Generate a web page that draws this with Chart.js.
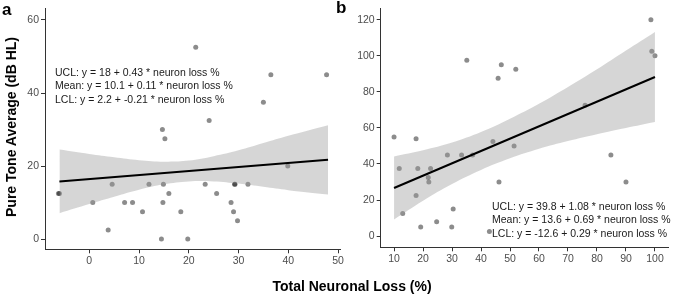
<!DOCTYPE html>
<html>
<head>
<meta charset="utf-8">
<script src="https://cdn.jsdelivr.net/npm/chart.js@4"></script>
<style>
  body { margin: 0; background: #fff; width: 675px; height: 296px; overflow: hidden; position: relative; font-family: "Liberation Sans", Arial, sans-serif; }
  canvas { position: absolute; top: 0; }
  .lbl { position: absolute; font-weight: bold; color: #000; }
  .eq { position: absolute; font-size: 10.5px; line-height: 13.3px; color: #1a1a1a; white-space: nowrap; }
</style>
</head>
<body>
<canvas id="chartA" style="left:0px"></canvas>
<canvas id="chartB" style="left:330px"></canvas>

<div class="lbl" style="left:2px;top:0px;font-size:17px;">a</div>
<div class="lbl" style="left:336px;top:-2px;font-size:17px;">b</div>
<div class="lbl" style="left:11px;top:127px;font-size:14px;transform:translate(-50%,-50%) rotate(-90deg);white-space:nowrap;">Pure Tone Average (dB HL)</div>
<div class="lbl" style="left:352px;top:286px;font-size:14px;transform:translate(-50%,-50%);white-space:nowrap;">Total Neuronal Loss (%)</div>

<div class="eq" style="left:55px;top:66px;">UCL: y = 18 + 0.43 * neuron loss %<br>Mean: y = 10.1 + 0.11 * neuron loss %<br>LCL: y = 2.2 + -0.21 * neuron loss %</div>
<div class="eq" style="left:492px;top:200px;">UCL: y = 39.8 + 1.08 * neuron loss %<br>Mean: y = 13.6 + 0.69 * neuron loss %<br>LCL: y = -12.6 + 0.29 * neuron loss %</div>

<script>
// panel a: neuron loss vs PTA
const aLoss = [21.4, 36.5, 47.7, 35, 24.1, 14.7, 15.2, 39.9, -6, -6.2, 4.6, 12, 14.9, 23.3, 29.2, 29.3, 31.9, 16, 25.6, 0.7, 7.1, 8.7, 14.8, 28.5, 10.7, 18.4, 29, 29.8, 3.8, 14.5, 19.8];
const aPta  = [52.5, 45, 45, 37.5, 32.5, 30, 27.5, 20, 12.5, 12.5, 15, 15, 15, 15, 15, 15, 15, 12.5, 12.5, 10, 10, 10, 10, 10, 7.5, 7.5, 7.5, 5, 2.5, 0, 0];
const aFitX = [-6, 48];
const aFitY = [15.8, 21.7];
const aBandX  = [-6, 0, 5, 10, 15, 20, 25, 30, 35, 40, 48];
const aBandLo = [7.1, 9.6, 11.6, 13.5, 15.0, 15.8, 15.8, 15.2, 14.3, 13.4, 12.2];
const aBandHi = [24.5, 23.3, 22.4, 21.6, 21.2, 21.5, 22.7, 24.3, 26.3, 28.3, 31.2];
const aXTicks = [0, 10, 20, 30, 40, 50];
const aYTicks = [0, 20, 40, 60];

// panel b
const bLoss = [10, 17.6, 11.8, 18.2, 22.6, 21.8, 22, 17.6, 13, 19.2, 24.7, 29.9, 30.4, 28.4, 33.3, 37.1, 44.1, 51.4, 46.2, 42.9, 75.9, 84.8, 90, 35.1, 47, 45.9, 52, 98.6, 98.9, 100];
const bPta  = [55, 54, 37.5, 37.5, 37.5, 32.5, 30, 22.5, 12.5, 5, 8, 5, 15, 45, 45, 45, 52.5, 50, 30, 2.5, 72.5, 45, 30, 97.5, 95, 87.5, 92.5, 120, 102.5, 100];
const bFitX = [10, 100];
const bFitY = [26.7, 88.2];
const bBandX  = [10, 20, 30, 40, 50, 60, 70, 80, 90, 100];
const bBandLo = [9.2, 19.6, 28.9, 36.7, 43.1, 48.4, 52.7, 56.5, 59.9, 63.2];
const bBandHi = [44.2, 47.6, 51.9, 57.7, 65.1, 73.4, 82.7, 92.5, 102.9, 113.2];
const bXTicks = [10, 20, 30, 40, 50, 60, 70, 80, 90, 100];
const bYTicks = [0, 20, 40, 60, 80, 100, 120];

function pts(xs, ys) {
  return xs.map((x, i) => ({ x: x, y: ys[i] }));
}

function makePanel(id, w, cfg) {
  const cv = document.getElementById(id);
  cv.width = w;
  cv.height = 296;
  cv.style.width = w + 'px';
  cv.style.height = '296px';

  const axisStyle = {
    border: { display: true, color: '#333', width: 1 },
    grid: { drawOnChartArea: false, drawTicks: true, tickLength: 4, tickColor: '#333' },
  };

  return new Chart(cv, {
    type: 'line',
    data: {
      datasets: [
        { data: pts(cfg.fitX, cfg.fitY), borderColor: '#000', borderWidth: 2, pointRadius: 0, fill: false },
        { data: pts(cfg.bandX, cfg.bandHi), borderWidth: 0, borderColor: 'rgba(0,0,0,0)', pointRadius: 0, tension: 0.4,
          fill: '+1', backgroundColor: 'rgba(153,153,153,0.4)' },
        { data: pts(cfg.bandX, cfg.bandLo), borderWidth: 0, borderColor: 'rgba(0,0,0,0)', pointRadius: 0, tension: 0.4, fill: false },
        { data: pts(cfg.xs, cfg.ys), showLine: false, pointRadius: 2.5, pointBorderWidth: 0,
          pointBackgroundColor: 'rgba(0,0,0,0.45)', pointBorderColor: 'rgba(0,0,0,0)' }
      ]
    },
    options: {
      responsive: false,
      animation: false,
      events: [],
      layout: { padding: { top: cfg.top, right: cfg.right, left: 0, bottom: 0 } },
      plugins: { legend: { display: false }, tooltip: { enabled: false } },
      scales: {
        x: Object.assign({
          type: 'linear', min: cfg.xMin, max: cfg.xMax,
          afterBuildTicks: s => { s.ticks = cfg.xTicks.map(v => ({ value: v })); },
          afterFit: s => { s.height = cfg.xH; },
          ticks: { color: '#4d4d4d', font: { size: 10.5, family: 'Liberation Sans, Arial' }, padding: 2, maxRotation: 0 }
        }, axisStyle),
        y: Object.assign({
          type: 'linear', min: cfg.yMin, max: cfg.yMax,
          afterBuildTicks: s => { s.ticks = cfg.yTicks.map(v => ({ value: v })); },
          afterFit: s => { s.width = cfg.yW; },
          ticks: { color: '#4d4d4d', font: { size: 10.5, family: 'Liberation Sans, Arial' }, padding: 2 }
        }, axisStyle)
      }
    }
  });
}

makePanel('chartA', 360, {
  xs: aLoss, ys: aPta, fitX: aFitX, fitY: aFitY, bandX: aBandX, bandLo: aBandLo, bandHi: aBandHi,
  xTicks: aXTicks, yTicks: aYTicks, xMin: -8.9, xMax: 50.4, yMin: -2.8, yMax: 63.2,
  top: 6.5, right: 20, yW: 45, xH: 46.7
});

makePanel('chartB', 345, {
  xs: bLoss, ys: bPta, fitX: bFitX, fitY: bFitY, bandX: bBandX, bandLo: bBandLo, bandHi: bBandHi,
  xTicks: bXTicks, yTicks: bYTicks, xMin: 5.4, xMax: 104.6, yMin: -6.2, yMax: 126.3,
  top: 6.5, right: 6.7, yW: 50.7, xH: 48.7
});
</script>
</body>
</html>
